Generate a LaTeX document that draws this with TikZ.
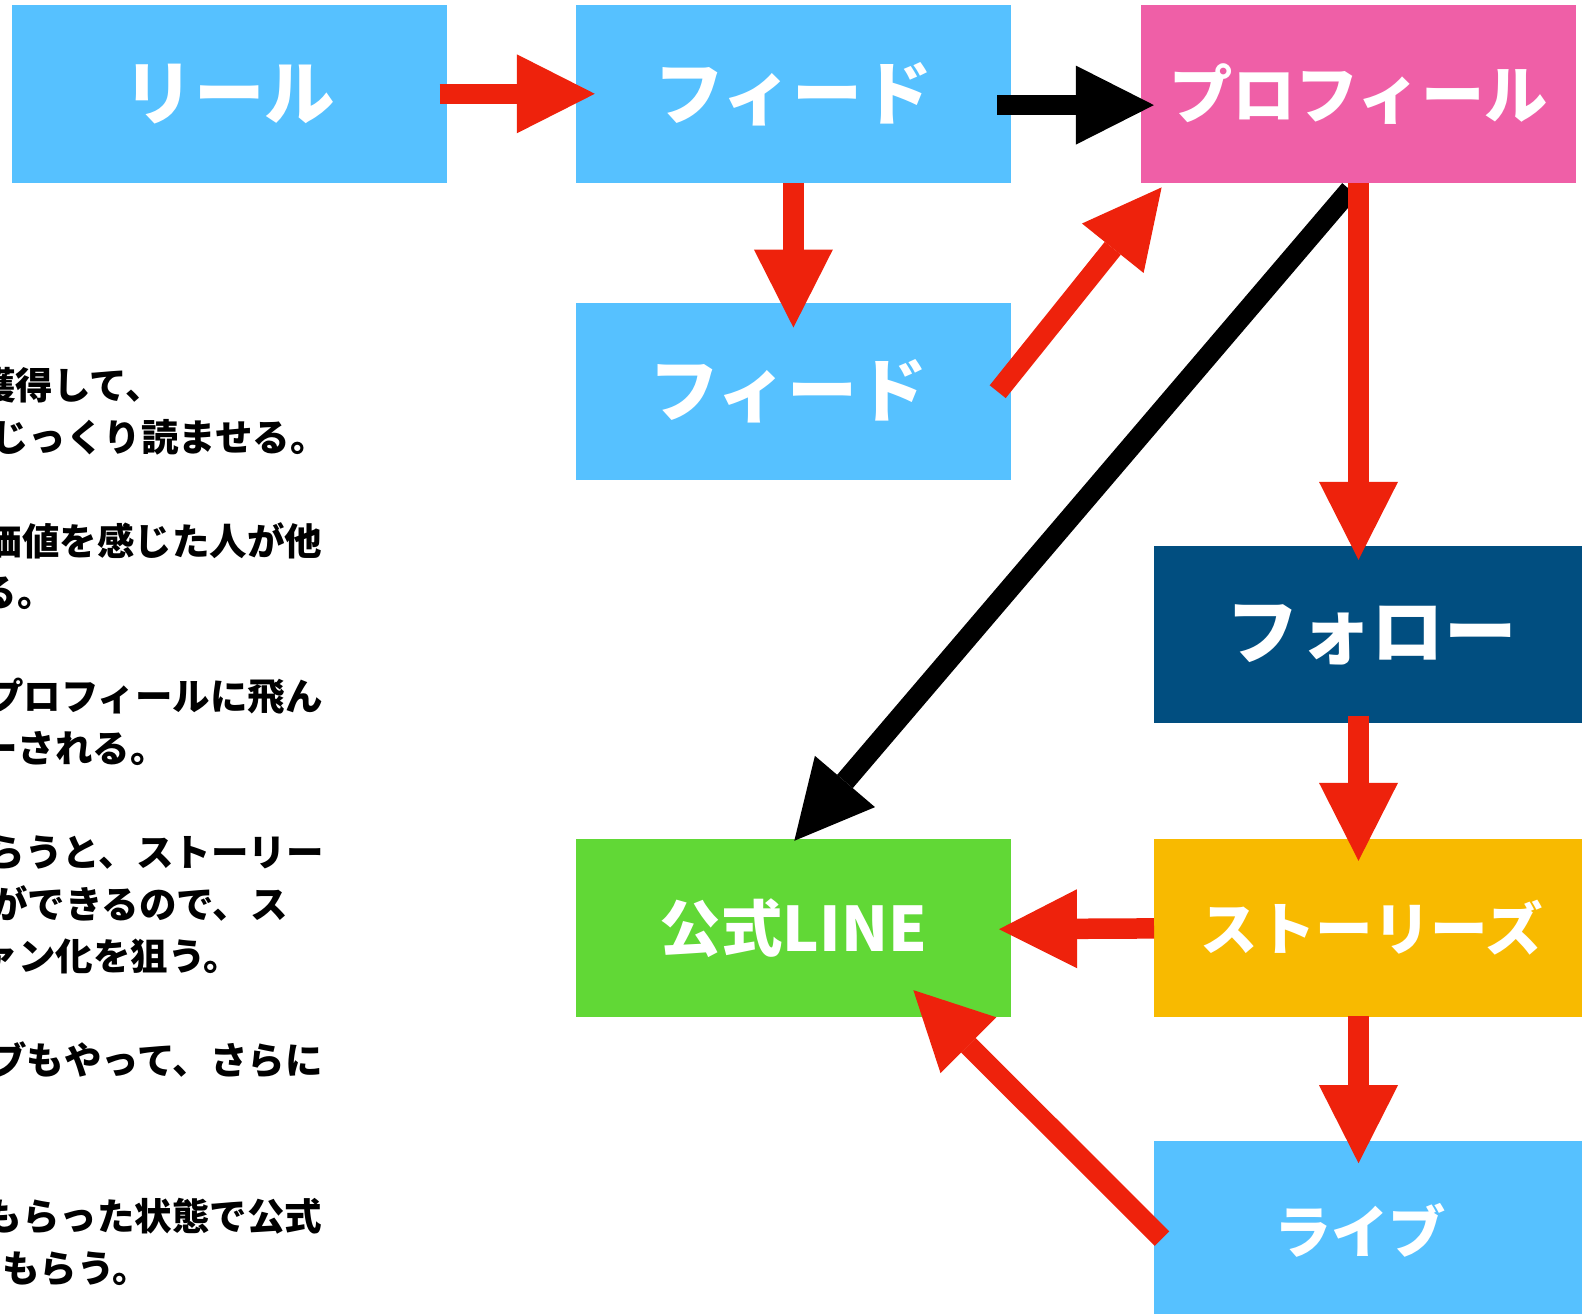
\documentclass[tikz,border=0pt]{standalone}
\usepackage{fontspec}
\newfontfamily\jp{Noto Sans CJK JP}
\usetikzlibrary{arrows.meta,calc}
\definecolor{sky}{HTML}{56C1FF}
\definecolor{berry}{HTML}{EF5FA7}
\definecolor{ocean}{HTML}{014E80}
\definecolor{lime}{HTML}{61D836}
\definecolor{amber}{HTML}{F8BA00}
\definecolor{kred}{HTML}{EE220C}
\begin{document}
\begin{tikzpicture}[x=1pt,y=-1pt,
  box/.style={rectangle, minimum width=434.8pt, minimum height=177.6pt, inner sep=0pt, text=white},
  bt/.style={font=\jp\bfseries\fontsize{#1}{#1}\selectfont},
  lbl/.style={font=\jp\bfseries\fontsize{37.5}{45}\selectfont, anchor=base east, inner sep=0pt, text=black},
  conn/.style={line width=20.5pt, -{Triangle[length=78pt,width=79pt,line width=0pt]}},
  rarr/.style={conn, color=kred},
  barr/.style={conn, color=black}]
\useasboundingbox (0,0) rectangle (1582,1314);
\clip (0,0) rectangle (1582,1314);
\fill[white] (0,0) rectangle (1582,1314);
% boxes
\node[box, fill=sky, bt=70.5] (reel) at (229.4,93.8) {リール};
\node[box, fill=sky, bt=70] (feed1) at (793.4,93.8) {フィード};
\node[box, fill=berry, bt=63.3] (prof) at (1358.5,93.8) {プロフィール};
\node[box, fill=sky, bt=70] (feed2) at (793.4,391.5) {\hspace*{-10pt}フィード};
\node[box, fill=ocean, bt=72.5] (follow) at (1371.6,634.6) {\raisebox{-4pt}{フォロー}};
\node[box, fill=lime, bt=61.5] (line) at (793.4,927.8) {公式LINE};
\node[box, fill=amber, bt=57.5] (story) at (1371.6,927.8) {ストーリーズ};
\node[box, fill=sky, bt=57.3] (live) at (1371.6,1229.9) {\hspace*{-23pt}ライブ};
% left text
\node[lbl] (t1) at (163,399.2) {獲得して、};
\node[lbl] (t2) at (328,451.1) {じっくり読ませる。};
\node[lbl] (t3) at (322.5,555.0) {価値を感じた人が他};
\node[lbl] (t4) at (55,606.9) {る。};
\node[lbl] (t5) at (323,710.8) {プロフィールに飛ん};
\node[lbl] (t6) at (168,762.7) {ーされる。};
\node[lbl] (t7) at (324,866.6) {らうと、ストーリー};
\node[lbl] (t8) at (288,918.5) {ができるので、ス};
\node[lbl] (t9) at (241,970.4) {ァン化を狙う。};
\node[lbl] (t10) at (323,1074.3) {ブもやって、さらに};
\node[lbl] (t11) at (322.5,1230.1) {もらった状態で公式};
\node[lbl] (t12) at (150,1282.0) {もらう。};
% connectors
\draw[rarr] ($(reel.east)+(-7.4,0)$) -- ($(feed1.west)+(19,0)$);
\draw[barr] ($(feed1.east)+(-14,11.3)$) -- ($(prof.west)+(13,11.3)$);
\draw[rarr] (feed1.south) -- ($(feed2.north)+(0,25)$);
\draw[rarr] ($(feed2.east)+(-13.3,0.2)$) -- ($(prof.south west)+(20.7,4.6)$);
\draw[barr] ($(prof.south)+(-8.5,7)$) -- ($(line.north)+(0.9,2)$);
\draw[rarr] (prof.south) -- ($(prof.south |- follow.north)+(0,14.2)$);
\draw[rarr] ($(prof.south |- follow.south)+(0,-8)$) -- ($(prof.south |- story.north)+(0,22)$);
\draw[rarr] ($(story.west)+(0,0.6)$) -- ($(line.east)+(-12,1.4)$);
\draw[rarr] ($(prof.south |- story.south)+(0,-0.7)$) -- ($(prof.south |- live.north)+(0,22.3)$);
\draw[rarr] ($(live.west)+(8,8.8)$) -- ($(line.south east)+(-97.7,-26.7)$);
\end{tikzpicture}
\end{document}
